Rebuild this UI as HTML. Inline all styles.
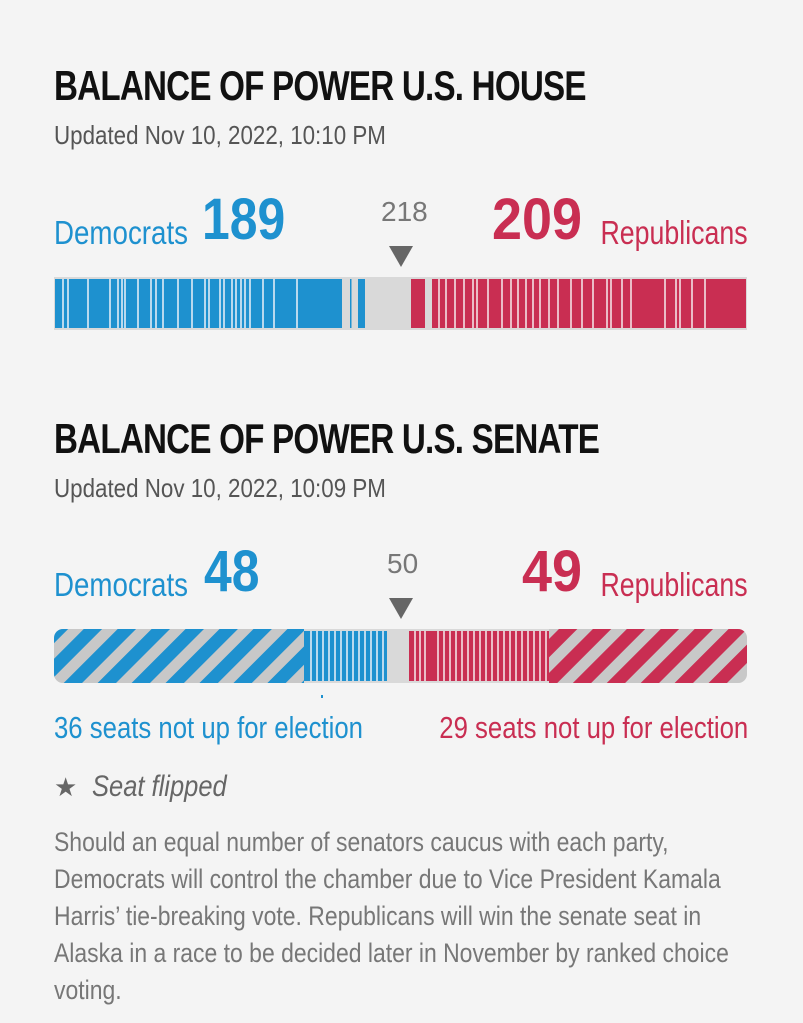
<!DOCTYPE html>
<html><head><style>
body{margin:0;width:803px;height:1023px;background:#f4f4f4;font-family:"Liberation Sans Narrow","Liberation Sans",sans-serif;position:relative;overflow:hidden}
.a{position:absolute;white-space:nowrap}
.t{font-weight:bold;font-size:42px;color:#111;letter-spacing:-1px;transform:scaleX(.79);transform-origin:left}
.u{font-size:26px;color:#555;transform:scaleX(.86);transform-origin:left}
.b{color:#1e91cf}.r{color:#c92e52}
.lab{font-size:33px;transform:scaleX(.84);transform-origin:left}
.rr{transform-origin:right}
.num{font-size:58px;font-weight:bold;transform:scaleX(.86);transform-origin:left}
.g{font-size:28px;color:#777}
</style></head><body>
<div class="a t" style="left:54px;top:62px">BALANCE OF POWER U.S. HOUSE</div>
<div class="a u" style="left:54px;top:120px">Updated Nov 10, 2022, 10:10 PM</div>
<div class="a lab b" style="left:54px;top:214px">Democrats</div>
<div class="a num b" style="left:202px;top:186px">189</div>
<div class="a g" style="left:381px;top:196px">218</div>
<div class="a" style="left:389px;top:246px;width:0;height:0;border-left:12px solid transparent;border-right:12px solid transparent;border-top:21px solid #666"></div>
<div class="a num r" style="left:492px;top:186px;transform:scaleX(.93)">209</div>
<div class="a lab r rr" style="right:55px;top:214px;transform:scaleX(.81)">Republicans</div>
<svg class="a" style="left:0;top:0" width="803" height="1023">
<defs>
<pattern id="hb" width="24" height="24" patternUnits="userSpaceOnUse" patternTransform="rotate(45)"><rect width="24" height="24" fill="#c8c8c8"/><rect width="13" height="24" fill="#1e91cf"/></pattern>
<pattern id="hr" width="24" height="24" patternUnits="userSpaceOnUse" patternTransform="rotate(45)"><rect width="24" height="24" fill="#c8c8c8"/><rect width="13" height="24" fill="#c92e52"/></pattern>
<clipPath id="sc"><rect x="54" y="629" width="693" height="54" rx="9"/></clipPath>
</defs>
<rect x="54" y="277" width="693" height="53" fill="#d9d9d9"/>
<rect x="55" y="279" width="287" height="49" fill="#1e91cf"/>
<rect x="350" y="279" width="1.5" height="49" fill="#1e91cf"/>
<rect x="358" y="279" width="7" height="49" fill="#1e91cf"/>
<g fill="#b9d9ee">
<rect x="62" y="279" width="2" height="49"/><rect x="67" y="279" width="2" height="49"/><rect x="87" y="279" width="2" height="49"/><rect x="109" y="279" width="2" height="49"/><rect x="117" y="279" width="2" height="49"/><rect x="121" y="279" width="2" height="49"/><rect x="124" y="279" width="2" height="49"/><rect x="137" y="279" width="2" height="49"/><rect x="150" y="279" width="2" height="49"/><rect x="155" y="279" width="2" height="49"/><rect x="162" y="279" width="2" height="49"/><rect x="177" y="279" width="2" height="49"/><rect x="191" y="279" width="2" height="49"/><rect x="204" y="279" width="2" height="49"/><rect x="208" y="279" width="2" height="49"/><rect x="219" y="279" width="2" height="49"/><rect x="223" y="279" width="2" height="49"/><rect x="231" y="279" width="2" height="49"/><rect x="235" y="279" width="2" height="49"/><rect x="240" y="279" width="2" height="49"/><rect x="244" y="279" width="2" height="49"/><rect x="249" y="279" width="2" height="49"/><rect x="262" y="279" width="2" height="49"/><rect x="273" y="279" width="2" height="49"/><rect x="296" y="279" width="2" height="49"/>
</g>
<rect x="411" y="279" width="14" height="49" fill="#c92e52"/>
<rect x="432" y="279" width="314" height="49" fill="#c92e52"/>
<g fill="#ebbcc7">
<rect x="438" y="279" width="2" height="49"/><rect x="445" y="279" width="2" height="49"/><rect x="454" y="279" width="2" height="49"/><rect x="463" y="279" width="2" height="49"/><rect x="472" y="279" width="2" height="49"/><rect x="476" y="279" width="2" height="49"/><rect x="487" y="279" width="2" height="49"/><rect x="501" y="279" width="2" height="49"/><rect x="510" y="279" width="2" height="49"/><rect x="517" y="279" width="2" height="49"/><rect x="525" y="279" width="2" height="49"/><rect x="532" y="279" width="2" height="49"/><rect x="539" y="279" width="2" height="49"/><rect x="548" y="279" width="2" height="49"/><rect x="557" y="279" width="2" height="49"/><rect x="570" y="279" width="2" height="49"/><rect x="581" y="279" width="2" height="49"/><rect x="592" y="279" width="2" height="49"/><rect x="606" y="279" width="2" height="49"/><rect x="610" y="279" width="2" height="49"/><rect x="621" y="279" width="2" height="49"/><rect x="630" y="279" width="2" height="49"/><rect x="664" y="279" width="2" height="49"/><rect x="675" y="279" width="2" height="49"/><rect x="679" y="279" width="2" height="49"/><rect x="691" y="279" width="2" height="49"/><rect x="704" y="279" width="2" height="49"/>
</g>
<g clip-path="url(#sc)">
<rect x="54" y="629" width="693" height="54" fill="#d9d9d9"/>
<rect x="54" y="629" width="250" height="54" fill="url(#hb)"/>
<rect x="304" y="631" width="83" height="50" fill="#1e91cf"/>
<g fill="#b9d9ee"><rect x="310" y="631" width="2" height="50"/><rect x="316" y="631" width="2" height="50"/><rect x="322" y="631" width="2" height="50"/><rect x="328" y="631" width="2" height="50"/><rect x="334" y="631" width="2" height="50"/><rect x="340" y="631" width="2" height="50"/><rect x="346" y="631" width="2" height="50"/><rect x="352" y="631" width="2" height="50"/><rect x="358" y="631" width="2" height="50"/><rect x="364" y="631" width="2" height="50"/><rect x="370" y="631" width="2" height="50"/><rect x="376" y="631" width="2" height="50"/><rect x="382" y="631" width="2" height="50"/></g>
<rect x="409" y="631" width="140" height="50" fill="#c92e52"/>
<g fill="#ebbcc7"><rect x="414" y="631" width="2" height="50"/><rect x="419" y="631" width="2" height="50"/><rect x="424" y="631" width="2" height="50"/><rect x="437" y="631" width="2" height="50"/><rect x="443" y="631" width="2" height="50"/><rect x="449" y="631" width="2" height="50"/><rect x="455" y="631" width="2" height="50"/><rect x="461" y="631" width="2" height="50"/><rect x="467" y="631" width="2" height="50"/><rect x="473" y="631" width="2" height="50"/><rect x="479" y="631" width="2" height="50"/><rect x="485" y="631" width="2" height="50"/><rect x="491" y="631" width="2" height="50"/><rect x="497" y="631" width="2" height="50"/><rect x="503" y="631" width="2" height="50"/><rect x="509" y="631" width="2" height="50"/><rect x="515" y="631" width="2" height="50"/><rect x="521" y="631" width="2" height="50"/><rect x="527" y="631" width="2" height="50"/><rect x="533" y="631" width="2" height="50"/><rect x="539" y="631" width="2" height="50"/><rect x="545" y="631" width="2" height="50"/></g>
<rect x="549" y="629" width="198" height="54" fill="url(#hr)"/>
</g>
<rect x="321" y="695" width="2" height="3" fill="#1e91cf"/>
</svg>
<div class="a t" style="left:54px;top:415px">BALANCE OF POWER U.S. SENATE</div>
<div class="a u" style="left:54px;top:473px">Updated Nov 10, 2022, 10:09 PM</div>
<div class="a lab b" style="left:54px;top:566px">Democrats</div>
<div class="a num b" style="left:204px;top:538px">48</div>
<div class="a g" style="left:387px;top:548px">50</div>
<div class="a" style="left:389px;top:598px;width:0;height:0;border-left:12px solid transparent;border-right:12px solid transparent;border-top:21px solid #666"></div>
<div class="a num r" style="left:522px;top:538px;transform:scaleX(.93)">49</div>
<div class="a lab r rr" style="right:55px;top:566px;transform:scaleX(.81)">Republicans</div>
<div class="a lab b" style="left:54px;top:710px;font-size:31px;transform:scaleX(.83)">36 seats not up for election</div>
<div class="a lab r rr" style="right:55px;top:710px;font-size:31px;transform:scaleX(.83)">29 seats not up for election</div>
<div class="a" style="left:54px;top:772px;font-size:26px;color:#666">★</div>
<div class="a" style="left:92px;top:770px;font-size:30px;color:#666;font-style:italic;transform:scaleX(.85);transform-origin:left">Seat flipped</div>
<div class="a" style="left:54px;top:824px;font-size:27px;line-height:37px;color:#777;transform:scaleX(.85);transform-origin:left">Should an equal number of senators caucus with each party,<br>Democrats will control the chamber due to Vice President Kamala<br>Harris’ tie-breaking vote. Republicans will win the senate seat in<br>Alaska in a race to be decided later in November by ranked choice<br>voting.</div>
</body></html>
